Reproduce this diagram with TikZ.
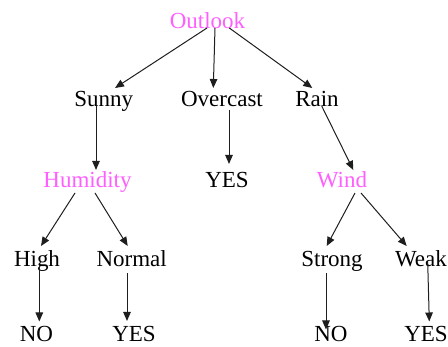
\documentclass[tikz,border=0pt]{standalone}
\usepackage{fontspec}
\setmainfont{Liberation Serif}
\usetikzlibrary{arrows.meta}
\definecolor{attr}{RGB}{255,95,255}
\definecolor{ink}{RGB}{30,30,30}
\begin{document}
\begin{tikzpicture}[x=1pt,y=-1pt,
  lbl/.style={inner sep=0pt,anchor=base,font=\fontsize{23}{27}\selectfont},
  attrlbl/.style={lbl,text=attr},
  edge/.style={draw=ink,line width=1pt,-{Triangle[length=9pt,width=7.5pt]}}]
\useasboundingbox (0,0) rectangle (448,347);

% tree nodes (positioned at their baselines)
\node[attrlbl] (outlook)  at (207.5,29)  {Outlook};
\node[lbl]     (sunny)    at (103.7,107) {Sunny};
\node[lbl]     (overcast) at (222,107)   {Overcast};
\node[lbl]     (rain)     at (317,107)   {Rain};
\node[attrlbl] (humid)    at (87.5,188)  {Humidity};
\node[lbl]     (yesA)     at (227,188)   {YES};
\node[attrlbl] (wind)     at (342,188)   {Wind};
\node[lbl]     (high)     at (37,267)    {High};
\node[lbl]     (normal)   at (131.7,267) {Normal};
\node[lbl]     (strong)   at (332,267)   {Strong};
\node[lbl]     (weak)     at (421,267)   {Weak};
\node[lbl]     (noA)      at (36.5,341.5)  {NO};
\node[lbl]     (yesB)     at (134,341.5)   {YES};
\node[lbl]     (noB)      at (331,341.5)   {NO};
\node[lbl]     (yesC)     at (426,341.5)   {YES};

% branches
\draw[edge] ([xshift=-0.5pt,yshift=1pt]outlook.base) -- ([xshift=11.3pt,yshift=19pt]sunny.base);
\draw[edge] ([xshift=7.5pt,yshift=1pt]outlook.base)  -- ([xshift=-8.7pt,yshift=19pt]overcast.base);
\draw[edge] ([xshift=21.8pt,yshift=1pt]outlook.base) -- ([xshift=-4.7pt,yshift=19pt]rain.base);
\draw[edge] ([xshift=-7.7pt,yshift=1pt]sunny.base)   -- ([xshift=8.5pt,yshift=18pt]humid.base);
\draw[edge] ([xshift=7pt,yshift=-3pt]overcast.base)  -- ([xshift=2pt,yshift=24pt]yesA.base);
\draw[edge] ([xshift=4.7pt,yshift=1pt]rain.base)     -- ([xshift=11.3pt,yshift=18pt]wind.base);
\draw[edge] ([xshift=-12.5pt,yshift=-5pt]humid.base) -- ([xshift=4pt,yshift=21pt]high.base);
\draw[edge] ([xshift=7.5pt,yshift=-5pt]humid.base)   -- ([xshift=-4pt,yshift=21pt]normal.base);
\draw[edge] ([xshift=13pt,yshift=-5pt]wind.base)     -- ([xshift=-5.3pt,yshift=21pt]strong.base);
\draw[edge] ([xshift=19pt,yshift=-5pt]wind.base)     -- ([xshift=-14.3pt,yshift=21pt]weak.base);
\draw[edge] ([xshift=2.3pt,yshift=2pt]high.base)     -- ([xshift=2.8pt,yshift=20pt]noA.base);
\draw[edge] ([xshift=-4.7pt,yshift=-6pt]normal.base) -- ([xshift=-7pt,yshift=20.5pt]yesB.base);
\draw[edge] ([xshift=-6pt,yshift=-6pt]strong.base)   -- ([xshift=-5pt,yshift=12pt]noB.base);
\draw[edge] ([xshift=6.7pt,yshift=5pt]weak.base)     -- ([xshift=3.3pt,yshift=20pt]yesC.base);
\end{tikzpicture}
\end{document}
